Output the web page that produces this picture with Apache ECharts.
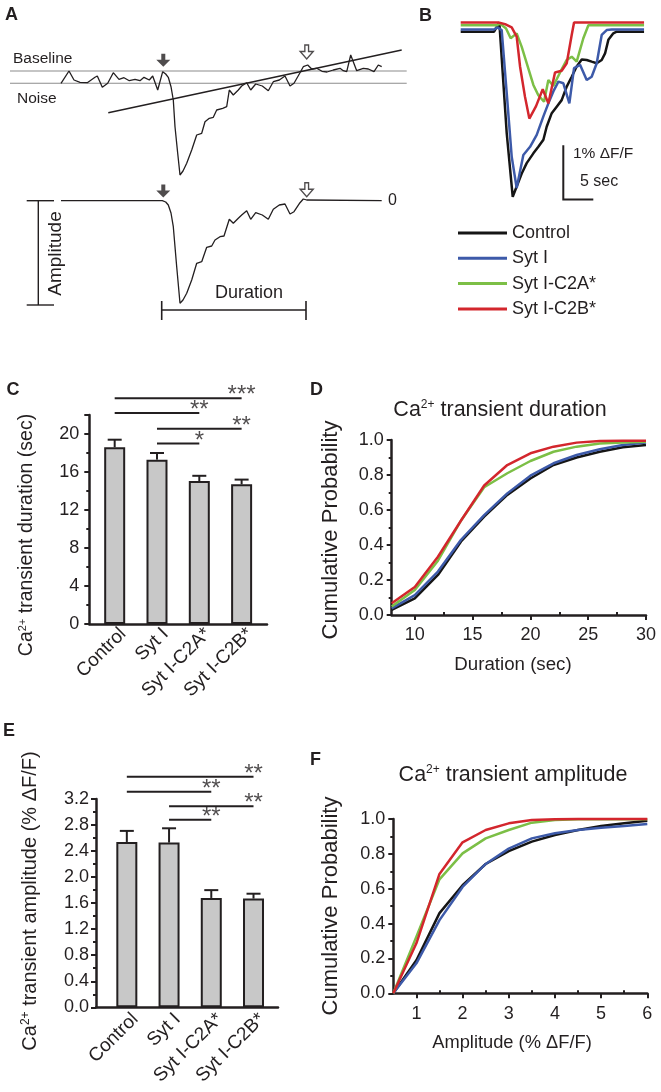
<!DOCTYPE html>
<html><head><meta charset="utf-8">
<script src="https://cdn.jsdelivr.net/npm/echarts@6/dist/echarts.min.js"></script>
<style>html,body{margin:0;padding:0;background:#fff}#c{width:661px;height:1092px}</style>
</head><body><div id="c"></div>
<script>
const FONT = '"Liberation Sans", Arial, Helvetica, sans-serif';
const INK = '#231f20';

// ---------- shared groups ----------
const groups = ['Control', 'Syt I', 'Syt I-C2A*', 'Syt I-C2B*'];
const groupColors = ['#151515', '#3d5aa9', '#7cbf46', '#d3262d'];

// ---------- Panel A: schematic trace (time, fluorescence; arbitrary units) ----------
const rawTrace = [[61,83.3],[69,71],[74,80],[80,82.3],[87.3,82.7],[95,77.3],[97.3,76],[102.3,87.3],[107.7,83.3],[113.3,72.7],[119,79.3],[124,77.7],[129.3,80.7],[135,79.3],[140,80.7],[144,77.3],[149.3,80],[152.7,76],[157.7,90],[162.7,71.7],[165.7,74],[168.3,77.3],[171,86.7],[173.3,100],[175,126.7],[177.7,153.3],[180,175],[183,171],[186.7,163.3],[191.7,150],[196.7,135],[201.7,133.3],[205,121.7],[209.3,118.3],[213.3,117.3],[216.7,110],[222.7,108.3],[226.7,106.7],[229.3,90],[233.3,95],[238.3,90],[241.7,86],[246.7,82.7],[250.7,90],[255.7,84],[262.3,86],[268.3,90.7],[273.3,81.7],[279.3,80],[285,76],[290,86],[294,83.3],[300,72.7],[303.3,66.7],[307.7,65],[311.7,69],[316.7,68.3],[322,71.3],[327,72],[333.3,70],[340,68.3],[343.3,70.7],[346.7,71.7],[350.7,55],[356.7,70.7],[363.3,68.3],[368.3,69],[374,71.7],[378.3,65],[381.7,66.7]];
const flatTrace = [[61,200.7],[162.3,200.7],[165.7,202],[168.3,205],[171,213],[173.3,226.7],[176.7,266.7],[180,303.3],[183,300],[186.7,293.3],[191.7,280],[196.7,263.3],[201.7,261.7],[206.7,247.3],[211.7,246],[215,240],[220,236.7],[224,236],[229.3,219.3],[233.3,223.3],[238.3,218.3],[241.7,215],[246.7,210.7],[250.7,219.3],[255.7,212.7],[262.3,215],[268.3,219.3],[273.3,209.3],[279.3,205],[285,204],[290,214],[294,211.7],[300,202.7],[303.3,199],[306.7,200],[381.7,200.7]];
const baselineLevels = [71, 83.3];
const baselineSpan = [10, 406.7];
const fitLine = [[108.3,112.7],[401.7,50]];
const onsetMarks = [[163.3,60.3],[163.3,191]];
const offsetMarks = [[306.7,52],[306.7,189.7]];
const amplitudeBar = {x: 38.3, top: 200.7, bottom: 305, capLeft: 26.7, capRight: 54};
const durationBar = {y: 310, from: 161.7, to: 306, tickTop: 301, tickBottom: 320};

// ---------- Panel B: example traces (time s, % dF/F) ----------
const traceControl = [[0,0],[5.56,0],[6.44,0.17],[7.67,-1.87],[8.67,-3.04],[9.33,-2.85],[10.17,-2.61],[11,-2.42],[12.11,-2.24],[12.94,-2.12],[13.78,-1.99],[14.33,-1.75],[15.17,-1.5],[16,-1.38],[16.83,-1.26],[17.67,-1.01],[18.5,-0.83],[19.33,-0.64],[20.17,-0.51],[21,-0.52],[21.83,-0.55],[22.67,-0.58],[23.5,-0.52],[24.06,-0.4],[24.61,-0.15],[25.44,-0.03],[26,0],[30.56,0]];
const traceSytI = [[0,0.04],[5.56,0.04],[6.11,0.08],[6.83,0.03],[7.67,-1.13],[8.5,-2.3],[9.33,-2.88],[10.44,-2.27],[11.56,-2.12],[12.67,-1.9],[13.78,-1.56],[14.61,-1.32],[15.44,-1.1],[16.28,-0.92],[17.11,-0.95],[18.11,-1.32],[18.89,-0.67],[19.89,-0.61],[21,-0.89],[21.83,-0.83],[22.67,-0.58],[23.5,-0.06],[24.33,0.03],[25.17,0.04],[30.56,0.04]];
const traceC2A = [[0,0.12],[6,0.12],[6.56,0.15],[7.56,0.06],[8.33,-0.12],[9.33,-0.03],[10.17,-0.28],[11,-0.58],[12.11,-0.98],[12.94,-1.17],[13.89,-1.29],[14.61,-0.89],[15.44,-1.0],[16.56,-0.75],[17.67,-0.52],[18.5,-0.46],[19.33,-0.55],[20.44,-0.12],[21.28,0.12],[30.56,0.12]];
const traceC2B = [[0,0.17],[6.28,0.17],[7.39,0.14],[8.5,0.08],[9.33,-0.09],[9.89,-0.64],[10.72,-1.2],[11.44,-1.6],[12.56,-1.37],[13.67,-1.06],[14.61,-1.32],[15.72,-0.75],[16.83,-0.72],[17.67,-0.58],[18.5,-0.06],[18.89,0.17],[30.56,0.17]];
const scaleBarOrigin = [17.1, -3.09];
const scaleBarAmp = 1;   // % dF/F
const scaleBarTime = 5;  // sec

// ---------- Panel C: duration bars ----------
const durationMean = [18.6, 17.3, 15.05, 14.7];
const durationSem = [0.8, 0.7, 0.55, 0.5];
const durationSig = [[0,3,23.76,'***'],[0,2,22.2,'**'],[1,3,20.56,'**'],[1,2,19.0,'*']];

// ---------- Panel D: duration cumulative ----------
const durX = [8,10,12,14,16,18,20,22,24,26,28,30];
const durCum = [
  [0.029,0.095,0.229,0.42,0.562,0.686,0.78,0.857,0.9,0.933,0.958,0.971],
  [0.038,0.114,0.248,0.43,0.571,0.695,0.796,0.867,0.914,0.947,0.971,0.985],
  [0.048,0.143,0.31,0.54,0.73,0.81,0.88,0.933,0.962,0.98,0.986,0.99],
  [0.067,0.16,0.333,0.54,0.74,0.857,0.924,0.962,0.985,0.994,0.996,0.996]
];
const durXLabels = [10,15,20,25,30];
const durXMinor = [12.5,17.5,22.5,27.5];

// ---------- Panel E: amplitude bars ----------
const amplitudeMean = [2.54, 2.53, 1.68, 1.67];
const amplitudeSem = [0.17, 0.22, 0.12, 0.075];
const amplitudeSig = [[0,3,3.54,'**'],[0,2,3.31,'**'],[1,3,3.09,'**'],[1,2,2.88,'**']];

// ---------- Panel F: amplitude cumulative ----------
const ampX = [0.5,1,1.5,2,2.5,3,3.5,4,4.5,5,5.5,6];
const ampCum = [
  [0,0.19,0.46,0.62,0.742,0.816,0.87,0.908,0.937,0.96,0.975,0.99],
  [0,0.172,0.42,0.61,0.742,0.83,0.889,0.918,0.937,0.95,0.96,0.971],
  [0,0.325,0.654,0.803,0.889,0.937,0.979,0.994,0.998,0.998,0.998,0.998],
  [0,0.287,0.685,0.866,0.937,0.975,0.994,0.998,1,1,1,1]
];
const ampXLabels = [1,2,3,4,5,6];
const ampXMinor = [1.5,2.5,3.5,4.5,5.5];

// ================= build option =================
const axLine = {show:true, onZero:false, lineStyle:{color:INK, width:2.5}};
const tickStyle = {color:INK, width:2};
const lblStyle = {color:INK, fontFamily:FONT, fontSize:18};
function hiddenAxis(grid, min, max, inverse){
  return {type:'value', gridIndex:grid, min, max, inverse:!!inverse, show:false};
}
const labelShift = 0.2;

const xAxis = [
  hiddenAxis(0, 0, 420),
  hiddenAxis(1, 0, 31),
  {type:'value', gridIndex:2, min:-0.6, max:3.6, axisLine:axLine, axisTick:{show:false}, splitLine:{show:false},
   axisLabel:Object.assign({}, lblStyle, {fontSize:19, rotate:45, margin:7, customValues: groups.map((g,i)=>i+labelShift), formatter:v=>groups[Math.round(v-labelShift)]})},
  {type:'value', gridIndex:3, min:8, max:30, axisLine:axLine, splitLine:{show:false},
   axisTick:{show:true, length:5, lineStyle:tickStyle, customValues:durXLabels},
   axisLabel:Object.assign({}, lblStyle, {margin:11, customValues:durXLabels})},
  {type:'value', gridIndex:4, min:-0.73, max:3.58, axisLine:axLine, axisTick:{show:false}, splitLine:{show:false},
   axisLabel:Object.assign({}, lblStyle, {fontSize:19, rotate:45, margin:9, customValues: groups.map((g,i)=>i+labelShift), formatter:v=>groups[Math.round(v-labelShift)]})},
  {type:'value', gridIndex:5, min:0.5, max:6, axisLine:axLine, splitLine:{show:false},
   axisTick:{show:true, length:5, lineStyle:tickStyle, customValues:ampXLabels},
   axisLabel:Object.assign({}, lblStyle, {margin:12, customValues:ampXLabels})},
  {type:'value', gridIndex:3, min:8, max:30, axisLine:{show:false}, splitLine:{show:false}, axisLabel:{show:false},
   axisTick:{show:true, length:3, lineStyle:tickStyle, customValues:durXMinor}},
  {type:'value', gridIndex:5, min:0.5, max:6, axisLine:{show:false}, splitLine:{show:false}, axisLabel:{show:false},
   axisTick:{show:true, length:3, lineStyle:tickStyle, customValues:ampXMinor}}
];
const minor = {show:true, splitNumber:2, length:3, lineStyle:tickStyle};
const yAxis = [
  hiddenAxis(0, 0, 320, true),
  hiddenAxis(1, -3.3, 0.4),
  {type:'value', gridIndex:2, min:0, max:22, interval:4, axisLine:axLine, splitLine:{show:false},
   axisTick:{show:true, length:5, lineStyle:tickStyle}, minorTick:minor,
   axisLabel:Object.assign({}, lblStyle, {margin:10, showMaxLabel:false})},
  {type:'value', gridIndex:3, min:0, max:1, interval:0.2, axisLine:axLine, splitLine:{show:false},
   axisTick:{show:true, length:5, lineStyle:tickStyle}, minorTick:minor,
   axisLabel:Object.assign({}, lblStyle, {margin:8, formatter:v=>v.toFixed(1)})},
  {type:'value', gridIndex:4, min:0, max:3.2, interval:0.4, axisLine:axLine, splitLine:{show:false},
   axisTick:{show:true, length:5, lineStyle:tickStyle}, minorTick:minor,
   axisLabel:Object.assign({}, lblStyle, {margin:7, formatter:v=>v.toFixed(1)})},
  {type:'value', gridIndex:5, min:0, max:1, interval:0.2, axisLine:axLine, splitLine:{show:false},
   axisTick:{show:true, length:5, lineStyle:tickStyle}, minorTick:minor,
   axisLabel:Object.assign({}, lblStyle, {margin:8, formatter:v=>v.toFixed(1)})}
];
const gridBase = {outerBoundsMode:'none', containLabel:false};
const grid = [
  {left:0, top:0, width:420, height:320},
  {left:460.7, top:10, width:186, height:200.9},
  {left:89.3, top:415, width:177.7, height:209},
  {left:391.7, top:440, width:254.3, height:175},
  {left:96, top:799, width:182, height:208.3},
  {left:393.3, top:819, width:254, height:174.3}
].map(g=>Object.assign({}, gridBase, g));

const series = [];
function segs(ax, list, color, width){
  series.push({type:'lines', coordinateSystem:'cartesian2d', xAxisIndex:ax, yAxisIndex:ax, polyline:true, clip:false, silent:true,
    lineStyle:{color, width, opacity:1, curveness:0}, data:list.map(c=>({coords:c}))});
}
function trace(ax, data, color, width, name){
  series.push({type:'line', name, xAxisIndex:ax, yAxisIndex:ax, data, showSymbol:false, symbol:'none', silent:true, clip:false,
    lineStyle:{color, width}, itemStyle:{color}, animation:false});
}
// Panel A
trace(0, rawTrace, INK, 1.3);
trace(0, flatTrace, INK, 1.3);
segs(0, baselineLevels.map(y=>[[baselineSpan[0],y],[baselineSpan[1],y]]), '#8c8c8c', 1.1);
segs(0, [fitLine,
  [[amplitudeBar.x,amplitudeBar.top],[amplitudeBar.x,amplitudeBar.bottom]],
  [[amplitudeBar.capLeft,amplitudeBar.top],[amplitudeBar.capRight,amplitudeBar.top]],
  [[amplitudeBar.capLeft,amplitudeBar.bottom],[amplitudeBar.capRight,amplitudeBar.bottom]]], INK, 1.4);
segs(0, [[[durationBar.from,durationBar.y],[durationBar.to,durationBar.y]],
  [[durationBar.from,durationBar.tickTop],[durationBar.from,durationBar.tickBottom]],
  [[durationBar.to,durationBar.tickTop],[durationBar.to,durationBar.tickBottom]]], INK, 1.6);
const arrowPath = 'path://M5,0L9,0L9,6L14,6L7,13L0,6L5,6Z';
series.push({type:'scatter', xAxisIndex:0, yAxisIndex:0, symbol:arrowPath, symbolSize:[14,13], silent:true, clip:false,
  itemStyle:{color:INK}, data:onsetMarks});
series.push({type:'scatter', xAxisIndex:0, yAxisIndex:0, symbol:arrowPath, symbolSize:[13,14], silent:true, clip:false,
  itemStyle:{color:'#fff', borderColor:INK, borderWidth:1.4}, data:offsetMarks});
// Panel B
[traceControl, traceSytI, traceC2A, traceC2B].forEach((d,i)=>trace(1, d, groupColors[i], 2.5, groups[i]));
segs(1, [[[scaleBarOrigin[0], scaleBarOrigin[1]+scaleBarAmp],[scaleBarOrigin[0],scaleBarOrigin[1]],[scaleBarOrigin[0]+scaleBarTime, scaleBarOrigin[1]]]], INK, 2);

function barPanel(ax, mean, sem, sig){
  series.push({type:'bar', xAxisIndex:ax, yAxisIndex:ax, barWidth:21, silent:true, z:3,
    itemStyle:{color:'#c8c8c8', borderColor:INK, borderWidth:2},
    data: mean.map((m,i)=>[i,m])});
  series.push({type:'custom', xAxisIndex:ax, yAxisIndex:ax, silent:true, z:2, clip:false,
    data: mean.map((m,i)=>[i, m, m+sem[i]]),
    renderItem(params, api){
      const top = api.coord([api.value(0), api.value(2)]);
      const base = api.coord([api.value(0), api.value(1)]);
      return {type:'group', children:[
        {type:'line', shape:{x1:top[0], y1:base[1], x2:top[0], y2:top[1]}, style:{stroke:INK, lineWidth:2}},
        {type:'line', shape:{x1:top[0]-7, y1:top[1], x2:top[0]+7, y2:top[1]}, style:{stroke:INK, lineWidth:2}}
      ]};
    }});
  segs(ax, sig.map(s=>[[s[0],s[2]],[s[1],s[2]]]), INK, 2);
  series.push({type:'scatter', xAxisIndex:ax, yAxisIndex:ax, symbolSize:1, silent:true, clip:false,
    itemStyle:{color:'rgba(0,0,0,0)'},
    label:{show:true, position:'top', distance:-10, color:INK, fontFamily:FONT, fontSize:24, formatter:p=>p.data.star},
    data: sig.map(s=>({value:[s[1], s[2]], star:s[3]}))});
}
barPanel(2, durationMean, durationSem, durationSig);
barPanel(4, amplitudeMean, amplitudeSem, amplitudeSig);
durCum.forEach((d,i)=>trace(3, durX.map((x,j)=>[x,d[j]]), groupColors[i], 2.5, groups[i]));
ampCum.forEach((d,i)=>trace(5, ampX.map((x,j)=>[x,d[j]]), groupColors[i], 2.5, groups[i]));

// ---------- text ----------
function txt(text, x, y, size, opts){
  opts = opts || {};
  return {type:'text', x, y, rotation:opts.rot||0, silent:true, z:50,
    style:{text, fill:INK, fontFamily:FONT, fontSize:size, fontWeight:opts.bold?'bold':'normal',
      align:opts.align||'center', verticalAlign:'middle', rich: opts.rich ? {sup:{fontSize:Math.round(size*0.58), verticalAlign:'top', fill:INK, fontFamily:FONT}, n:{fontSize:size, fill:INK, fontFamily:FONT}} : undefined}};
}
const V = Math.PI/2;
const graphic = [
  txt('A', 5, 15.5, 18, {bold:true, align:'left'}),
  txt('B', 419, 16, 18, {bold:true, align:'left'}),
  txt('C', 6.5, 389.7, 18, {bold:true, align:'left'}),
  txt('D', 310, 389.7, 18, {bold:true, align:'left'}),
  txt('E', 3, 731, 18, {bold:true, align:'left'}),
  txt('F', 310, 760, 18, {bold:true, align:'left'}),
  txt('Baseline', 13, 59, 15.5, {align:'left'}),
  txt('Noise', 17, 99, 15.5, {align:'left'}),
  txt('Amplitude', 55.5, 253.5, 19, {rot:V}),
  txt('Duration', 249, 292.7, 18),
  txt('0', 388, 200.5, 16, {align:'left'}),
  txt('1% \u0394F/F', 573, 153.3, 15.5, {align:'left'}),
  txt('5 sec', 580, 181.7, 16, {align:'left'}),
  txt('{n|Ca}{sup|2+}{n| transient duration (sec)}', 27, 535, 19.5, {rot:V, rich:true}),
  txt('{n|Ca}{sup|2+}{n| transient duration}', 500, 410, 21.5, {rich:true}),
  txt('Cumulative Probability', 331, 530, 22, {rot:V}),
  txt('Duration (sec)', 513, 665, 18.7),
  txt('{n|Ca}{sup|2+}{n| transient amplitude (% \u0394F/F)}', 30, 901, 20, {rot:V, rich:true}),
  txt('{n|Ca}{sup|2+}{n| transient amplitude}', 513, 775, 21.5, {rich:true}),
  txt('Cumulative Probability', 331, 906, 22, {rot:V}),
  txt('Amplitude (% \u0394F/F)', 512, 1043, 18.3)
];

const option = {
  backgroundColor:'#fff',
  animation:false,
  grid, xAxis, yAxis, series, graphic,
  legend:{data:groups, orient:'vertical', left:458, top:224, itemWidth:49, itemHeight:3, itemGap:7.3, icon:'rect',
    selectedMode:false, padding:0, textStyle:{color:INK, fontFamily:FONT, fontSize:18, lineHeight:18}}
};
const chart = echarts.init(document.getElementById('c'), null, {renderer:'canvas'});
chart.setOption(option);
</script></body></html>
